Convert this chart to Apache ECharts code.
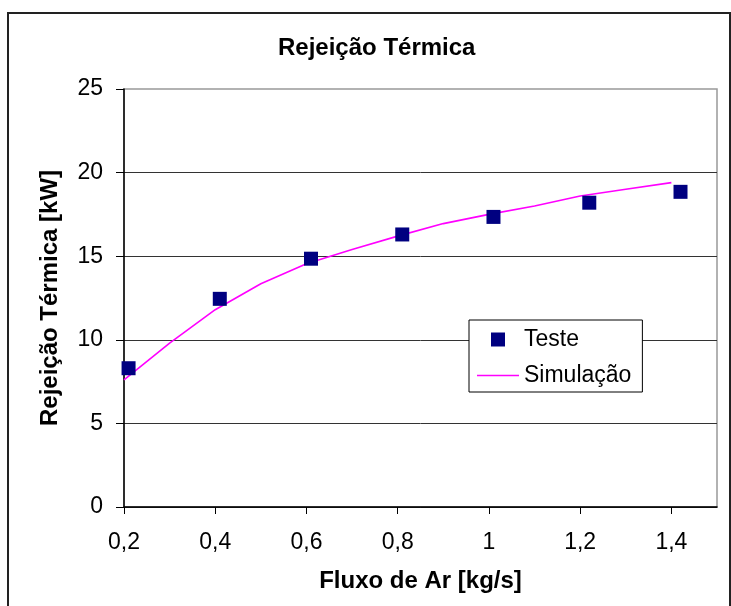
<!DOCTYPE html>
<html>
<head>
<meta charset="utf-8">
<title>Rejeição Térmica</title>
<script src="https://cdn.jsdelivr.net/npm/echarts@6/dist/echarts.min.js"></script>
<style>
  html, body { margin: 0; padding: 0; background: #fff; }
  #chart { width: 731px; height: 606px; }
</style>
</head>
<body>
<div id="chart"></div>
<script>
// dados
var testeX = [0.21, 0.41, 0.61, 0.81, 1.01, 1.22, 1.42];
var testeY = [8.3, 12.45, 14.85, 16.3, 17.35, 18.2, 18.85];

var simX = [0.2, 0.3, 0.4, 0.5, 0.6, 0.7, 0.8, 0.9, 1.0, 1.1, 1.2, 1.3, 1.4];
var simY = [7.6, 9.8, 11.8, 13.35, 14.55, 15.4, 16.2, 16.95, 17.5, 18.0, 18.6, 19.0, 19.4];

var xTicks = [0.2, 0.4, 0.6, 0.8, 1.0, 1.2, 1.4];

var FONT = '"Liberation Sans", Arial, sans-serif';

function pairs(xs, ys) {
    var out = [];
    for (var i = 0; i < xs.length; i++) out.push([xs[i], ys[i]]);
    return out;
}

var chart = echarts.init(document.getElementById('chart'));
var option = {
    backgroundColor: '#fff',
    animation: false,
    title: {
        text: 'Rejeição Térmica',
        left: 278,
        top: 36,
        padding: 0,
        textStyle: { fontFamily: FONT, fontSize: 24, fontWeight: 'bold', color: '#000' }
    },
    graphic: [{
        type: 'rect',
        shape: { x: 8, y: 13, width: 722, height: 600 },
        style: { fill: null, stroke: '#222', lineWidth: 2 },
        silent: true
    }],
    legend: {
        orient: 'vertical',
        left: 469,
        top: 320,
        padding: [8, 11, 5, 8],
        itemGap: 13,
        itemWidth: 42,
        itemHeight: 14,
        backgroundColor: '#fff',
        borderColor: '#000',
        borderWidth: 1,
        borderRadius: 0,
        textStyle: { fontFamily: FONT, fontSize: 23, color: '#000' },
        data: [
            { name: 'Teste', icon: 'path://M0 0H10V10H0Z' },
            { name: 'Simulação', icon: 'path://M0 0H42V1.6H0Z' }
        ]
    },
    grid: {
        left: 124, right: 14, top: 89, bottom: 99,
        show: true,
        backgroundColor: '#fff',
        borderColor: '#999',
        borderWidth: 1.5
    },
    xAxis: {
        type: 'value',
        min: 0.2,
        max: 1.5,
        interval: 0.2,
        name: 'Fluxo de Ar [kg/s]',
        nameLocation: 'middle',
        nameGap: 62,
        nameTextStyle: { fontFamily: FONT, fontSize: 24, fontWeight: 'bold', color: '#000' },
        axisLine: { show: true, onZero: false, lineStyle: { color: '#000', width: 1.5 } },
        axisTick: { show: true, inside: false, length: 7, customValues: xTicks, lineStyle: { color: '#000' } },
        axisLabel: {
            customValues: xTicks,
            margin: 24,
            fontFamily: FONT, fontSize: 23, color: '#000',
            formatter: function (v) { return String(Math.round(v * 10) / 10).replace('.', ','); }
        },
        splitLine: { show: false }
    },
    yAxis: {
        type: 'value',
        min: 0,
        max: 25,
        interval: 5,
        name: 'Rejeição Térmica [kW]',
        nameLocation: 'middle',
        nameGap: 62,
        nameTextStyle: { fontFamily: FONT, fontSize: 24, fontWeight: 'bold', color: '#000' },
        axisLine: { show: true, lineStyle: { color: '#000', width: 1.5 } },
        axisTick: { show: true, inside: false, length: 8, lineStyle: { color: '#000' } },
        axisLabel: { margin: 21, fontFamily: FONT, fontSize: 23, color: '#000' },
        splitLine: { show: true, showMaxLine: false, lineStyle: { color: '#333', width: 1 } }
    },
    series: [
        {
            name: 'Teste',
            type: 'scatter',
            symbol: 'rect',
            symbolSize: 14,
            itemStyle: { color: '#000080', opacity: 1 },
            data: pairs(testeX, testeY),
            z: 3
        },
        {
            name: 'Simulação',
            type: 'line',
            symbol: 'none',
            smooth: false,
            lineStyle: { color: '#ff00ff', width: 1.6 },
            itemStyle: { color: '#ff00ff' },
            data: pairs(simX, simY),
            z: 2
        }
    ]
};
chart.setOption(option);
</script>
</body>
</html>
